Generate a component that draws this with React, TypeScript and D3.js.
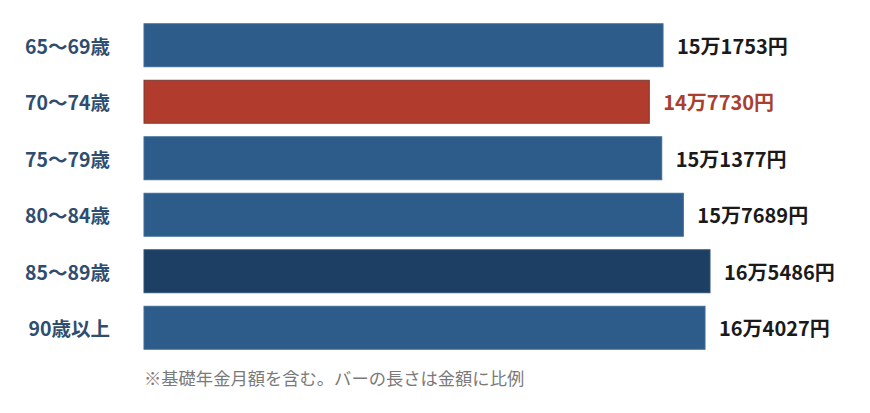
import React from 'react';
import * as d3 from 'd3';

// age groups, monthly pension amounts (yen)
const ageGroups = ['65〜69歳', '70〜74歳', '75〜79歳', '80〜84歳', '85〜89歳', '90歳以上'];
const amounts = [151753, 147730, 151377, 157689, 165486, 164027];
const amountLabels = ['15万1753円', '14万7730円', '15万1377円', '15万7689円', '16万5486円', '16万4027円'];
const highlight = ['normal', 'low', 'normal', 'normal', 'high', 'normal'];
const footnote = '※基礎年金月額を含む。バーの長さは金額に比例';

const W = 870;
const H = 413;
const FONT = '"Noto Sans CJK JP", "Noto Sans", sans-serif';

const fillFor: Record<string, string> = { normal: '#2d5b8a', low: '#b13b2c', high: '#1e3f64' };
const strokeFor: Record<string, string> = { normal: '#3d6a97', low: '#7d3a35', high: '#2f5278' };
const labelColor: Record<string, string> = { normal: '#1a1a1a', low: '#a83f31', high: '#1a1a1a' };

export default function App() {
  const x = d3.scaleLinear().domain([0, d3.max(amounts) as number]).range([144, 710]);
  const y = d3.scaleBand<string>()
    .domain(ageGroups)
    .range([17, 356])
    .paddingInner(0.24)
    .paddingOuter(0.12);

  return (
    <svg
      width={W}
      height={H}
      viewBox={`0 0 ${W} ${H}`}
      style={{ position: 'absolute', left: 0, top: 0, background: '#fff' }}
      fontFamily={FONT}
    >
      {ageGroups.map((g, i) => {
        const y0 = y(g)!;
        const cy = y0 + y.bandwidth() / 2;
        const kind = highlight[i];
        return (
          <g key={g}>
            <text
              x={110}
              y={cy}
              textAnchor="end"
              dominantBaseline="central"
              fontSize={19.5}
              fontWeight="bold"
              fill="#2f4d6f"
            >
              {g}
            </text>
            <rect
              x={x(0)}
              y={y0}
              width={x(amounts[i]) - x(0)}
              height={y.bandwidth()}
              fill={fillFor[kind]}
              stroke={strokeFor[kind]}
              strokeWidth={1}
            />
            <text
              x={x(amounts[i]) + 14}
              y={cy}
              dominantBaseline="central"
              fontSize={20}
              fontWeight="bold"
              fill={labelColor[kind]}
            >
              {amountLabels[i]}
            </text>
          </g>
        );
      })}
      <text x={144} y={377} dominantBaseline="central" fontSize={17.3} fill="#7a7a7a">
        {footnote}
      </text>
    </svg>
  );
}
